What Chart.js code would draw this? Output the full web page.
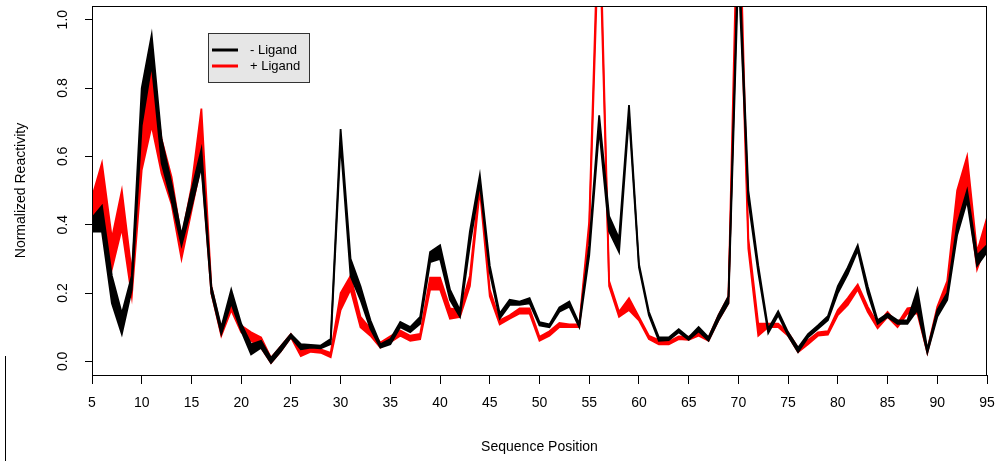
<!DOCTYPE html>
<html>
<head>
<meta charset="utf-8">
<script src="https://cdn.jsdelivr.net/npm/chart.js@4/dist/chart.umd.min.js"></script>
<style>
  html, body { margin: 0; padding: 0; background: #fff; }
  #wrap { width: 996px; height: 461px; }
</style>
</head>
<body>
<div id="wrap"><canvas id="reactivityChart" width="996" height="461"></canvas></div>
<script>
// sequence positions 5..95
const positions = Array.from({ length: 91 }, (_, i) => i + 5);
const xTicks = [5, 10, 15, 20, 25, 30, 35, 40, 45, 50, 55, 60, 65, 70, 75, 80, 85, 90, 95];
const yTicks = [0, 0.2, 0.4, 0.6, 0.8, 1.0];

// - Ligand band (lower / upper)
const noLigandLo = [
  0.38, 0.38, 0.17, 0.08, 0.21, 0.69, 0.87, 0.58, 0.47, 0.34,
  0.45, 0.57, 0.20, 0.08, 0.17, 0.09, 0.02, 0.04, -0.005, 0.03,
  0.07, 0.035, 0.04, 0.038, 0.05, 0.64, 0.25, 0.18, 0.095, 0.04,
  0.05, 0.10, 0.085, 0.11, 0.29, 0.30, 0.18, 0.13, 0.34, 0.52,
  0.26, 0.125, 0.165, 0.165, 0.17, 0.105, 0.10, 0.145, 0.16, 0.10,
  0.31, 0.68, 0.38, 0.32, 0.72, 0.275, 0.135, 0.06, 0.062, 0.085,
  0.063, 0.088, 0.06, 0.12, 0.17, 1.15, 0.47, 0.26, 0.083, 0.135,
  0.075, 0.027, 0.07, 0.095, 0.12, 0.20, 0.255, 0.325, 0.20, 0.11,
  0.13, 0.11, 0.11, 0.15, 0.025, 0.13, 0.18, 0.37, 0.47, 0.28,
  0.32
];
const noLigandHi = [
  0.42, 0.455, 0.25, 0.14, 0.25, 0.80, 0.955, 0.65, 0.52, 0.37,
  0.50, 0.62, 0.22, 0.10, 0.21, 0.11, 0.05, 0.06, 0.01, 0.045,
  0.08, 0.05, 0.048, 0.046, 0.065, 0.68, 0.30, 0.22, 0.12, 0.05,
  0.065, 0.115, 0.10, 0.13, 0.32, 0.34, 0.21, 0.15, 0.38, 0.545,
  0.28, 0.14, 0.18, 0.175, 0.185, 0.115, 0.108, 0.158, 0.175, 0.11,
  0.34, 0.72, 0.425, 0.36, 0.75, 0.285, 0.145, 0.07, 0.07, 0.094,
  0.07, 0.10, 0.07, 0.135, 0.19, 1.22, 0.50, 0.28, 0.095, 0.147,
  0.085, 0.04, 0.08, 0.105, 0.132, 0.22, 0.275, 0.34, 0.22, 0.12,
  0.14, 0.12, 0.12, 0.21, 0.035, 0.15, 0.20, 0.40, 0.50, 0.31,
  0.34
];

// + Ligand band (lower / upper)
const ligandLo = [
  0.38, 0.44, 0.27, 0.39, 0.19, 0.56, 0.69, 0.55, 0.46, 0.30,
  0.44, 0.58, 0.20, 0.075, 0.15, 0.085, 0.06, 0.04, -0.005, 0.03,
  0.07, 0.015, 0.028, 0.025, 0.012, 0.15, 0.21, 0.10, 0.075, 0.04,
  0.056, 0.075, 0.06, 0.065, 0.21, 0.21, 0.125, 0.13, 0.22, 0.50,
  0.19, 0.108, 0.125, 0.14, 0.14, 0.06, 0.075, 0.10, 0.10, 0.10,
  0.38, 1.30, 0.22, 0.13, 0.15, 0.12, 0.065, 0.05, 0.05, 0.065,
  0.063, 0.075, 0.06, 0.12, 0.17, 1.30, 0.33, 0.075, 0.10, 0.10,
  0.075, 0.027, 0.05, 0.075, 0.078, 0.135, 0.165, 0.21, 0.145, 0.097,
  0.13, 0.10, 0.14, 0.14, 0.025, 0.14, 0.20, 0.40, 0.50, 0.27,
  0.35
];
const ligandHi = [
  0.48, 0.58, 0.36, 0.50, 0.26, 0.68, 0.86, 0.65, 0.54, 0.36,
  0.51, 0.74, 0.22, 0.095, 0.19, 0.105, 0.085, 0.07, 0.01, 0.045,
  0.08, 0.035, 0.038, 0.035, 0.025, 0.20, 0.25, 0.13, 0.095, 0.055,
  0.073, 0.09, 0.075, 0.08, 0.245, 0.245, 0.155, 0.15, 0.25, 0.53,
  0.21, 0.12, 0.135, 0.155, 0.155, 0.072, 0.088, 0.112, 0.108, 0.108,
  0.41, 1.38, 0.235, 0.145, 0.185, 0.13, 0.075, 0.062, 0.058, 0.073,
  0.072, 0.088, 0.07, 0.135, 0.19, 1.45, 0.36, 0.11, 0.11, 0.11,
  0.085, 0.04, 0.062, 0.085, 0.088, 0.15, 0.185, 0.225, 0.16, 0.11,
  0.145, 0.11, 0.155, 0.16, 0.035, 0.16, 0.235, 0.50, 0.60, 0.32,
  0.42
];

const FONT = '"Liberation Sans", Arial, sans-serif';

const bandSet = (data, color, fill) => ({
  data: data,
  borderColor: color,
  backgroundColor: color,
  borderWidth: 1.8,
  pointRadius: 0,
  tension: 0,
  fill: fill,
  clip: 0
});

// box, rotated y labels, legend, outer left line
const decorPlugin = {
  id: 'decor',
  afterDraw(chart) {
    const { ctx, chartArea } = chart;
    const y = chart.scales.y;
    ctx.save();
    ctx.strokeStyle = '#000';
    ctx.lineWidth = 1;
    ctx.strokeRect(chartArea.left + 0.5, chartArea.top + 0.5,
      chartArea.right - chartArea.left - 1, chartArea.bottom - chartArea.top);

    // y tick labels, rotated like R's las=0
    ctx.fillStyle = '#000';
    ctx.font = '14px ' + FONT;
    ctx.textAlign = 'center';
    ctx.textBaseline = 'middle';
    yTicks.forEach(v => {
      const py = y.getPixelForValue(v);
      ctx.save();
      ctx.translate(63, py);
      ctx.rotate(-Math.PI / 2);
      ctx.fillText(v.toFixed(1), 0, 0);
      ctx.restore();
    });

    // legend
    ctx.fillStyle = '#e6e6e6';
    ctx.fillRect(208.5, 33.5, 101, 49);
    ctx.strokeStyle = '#333';
    ctx.strokeRect(208.5, 33.5, 101, 49);
    ctx.lineWidth = 3;
    ctx.strokeStyle = '#000';
    ctx.beginPath(); ctx.moveTo(212, 50); ctx.lineTo(238, 50); ctx.stroke();
    ctx.strokeStyle = '#ff0000';
    ctx.beginPath(); ctx.moveTo(212, 66); ctx.lineTo(238, 66); ctx.stroke();
    ctx.fillStyle = '#000';
    ctx.font = '13px ' + FONT;
    ctx.textAlign = 'left';
    ctx.fillText('- Ligand', 250, 50);
    ctx.fillText('+ Ligand', 250, 66);

    // left figure frame line
    ctx.lineWidth = 1;
    ctx.strokeStyle = '#000';
    ctx.beginPath(); ctx.moveTo(5.5, 356); ctx.lineTo(5.5, 461); ctx.stroke();
    ctx.restore();
  }
};

new Chart(document.getElementById('reactivityChart'), {
  type: 'line',
  data: {
    labels: positions,
    datasets: [
      bandSet(noLigandHi, '#000000', '+1'),
      bandSet(noLigandLo, '#000000', false),
      bandSet(ligandHi, '#ff0000', '+1'),
      bandSet(ligandLo, '#ff0000', false)
    ]
  },
  options: {
    responsive: false,
    animation: false,
    layout: { padding: { top: 6, right: 9, left: 0, bottom: 0 } },
    plugins: {
      legend: { display: false },
      tooltip: { enabled: false }
    },
    scales: {
      x: {
        type: 'linear',
        min: 5,
        max: 95,
        afterBuildTicks: (scale) => { scale.ticks = xTicks.map(v => ({ value: v })); },
        afterFit: (scale) => {
          scale.height = 86;
          scale.paddingLeft = 0;
          scale.paddingRight = 0;
        },
        border: { display: false },
        grid: { drawOnChartArea: false, drawTicks: true, tickLength: 9, color: '#000', lineWidth: 1 },
        ticks: {
          autoSkip: false,
          maxRotation: 0,
          color: '#000',
          padding: 11,
          font: { family: FONT, size: 14 },
          callback: (v) => String(v)
        },
        title: {
          display: true,
          text: 'Sequence Position',
          color: '#000',
          font: { family: FONT, size: 14 },
          padding: { top: 0, bottom: 5 }
        }
      },
      y: {
        min: -0.04,
        max: 1.04,
        afterBuildTicks: (scale) => { scale.ticks = yTicks.map(v => ({ value: v })); },
        afterFit: (scale) => { scale.width = 92; },
        border: { display: false },
        grid: { drawOnChartArea: false, drawTicks: true, tickLength: 7, color: '#000', lineWidth: 1 },
        ticks: { display: false },
        title: {
          display: true,
          text: 'Normalized Reactivity',
          color: '#000',
          font: { family: FONT, size: 14 },
          padding: { top: 13, bottom: 0 }
        }
      }
    }
  },
  plugins: [decorPlugin]
});
</script>
</body>
</html>
